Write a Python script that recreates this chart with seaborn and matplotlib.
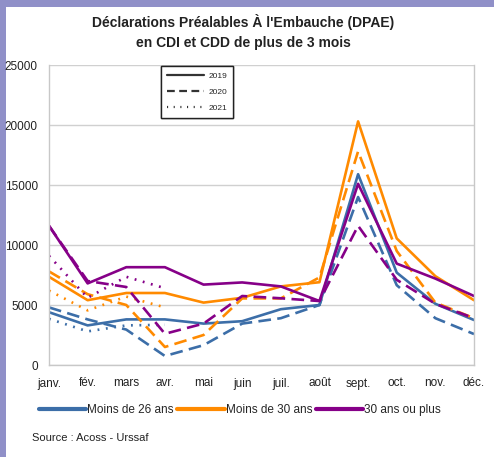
import matplotlib
matplotlib.use("Agg")
import matplotlib.pyplot as plt
from matplotlib.lines import Line2D
from matplotlib.patches import Rectangle
import pandas as pd
import seaborn as sns

mois = ["janv.", "fév.", "mars", "avr.", "mai", "juin", "juil.",
        "août", "sept.", "oct.", "nov.", "déc."]

# Moins de 26 ans
m26_2019 = [4400, 3300, 3800, 3800, 3450, 3650, 4650, 5000, 15900, 7700, 5100, 3750]
m26_2020 = [4800, 3800, 2950, 750, 1650, 3450, 3900, 5000, 14000, 6650, 3900, 2580]
m26_2021 = [3850, 2800, 3300, 3350]

# Moins de 30 ans
m30_2019 = [7350, 5400, 6000, 6000, 5200, 5600, 6550, 6900, 20300, 10550, 7400, 5400]
m30_2020 = [7800, 5900, 5000, 1500, 2500, 5550, 5550, 7300, 17800, 9500, 5200, 3900]
m30_2021 = [6200, 4550, 5700, 4800]

# 30 ans ou plus
p30_2019 = [11600, 6800, 8150, 8150, 6700, 6880, 6550, 5330, 15100, 8450, 7200, 5750]
p30_2020 = [11600, 7000, 6500, 2600, 3450, 5750, 5560, 5330, 11600, 7100, 5100, 3900]
p30_2021 = [9100, 5600, 7350, 6400]

groupes = ["Moins de 26 ans", "Moins de 30 ans", "30 ans ou plus"]
annees = ["2019", "2020", "2021"]
series = {
    ("Moins de 26 ans", "2019"): m26_2019,
    ("Moins de 26 ans", "2020"): m26_2020,
    ("Moins de 26 ans", "2021"): m26_2021,
    ("Moins de 30 ans", "2019"): m30_2019,
    ("Moins de 30 ans", "2020"): m30_2020,
    ("Moins de 30 ans", "2021"): m30_2021,
    ("30 ans ou plus", "2019"): p30_2019,
    ("30 ans ou plus", "2020"): p30_2020,
    ("30 ans ou plus", "2021"): p30_2021,
}

rows = []
for (g, a), vals in series.items():
    for i, v in enumerate(vals):
        rows.append({"mois": i, "dpae": v, "groupe": g, "annee": a})
df = pd.DataFrame(rows)

couleurs = {"Moins de 26 ans": "#3c6ea8", "Moins de 30 ans": "#ff8a00",
            "30 ans ou plus": "#860088"}
tirets = {"2019": "", "2020": (4.8, 2.4), "2021": (0.7, 2.5)}

sns.set_style("white")
plt.rcParams["font.family"] = ["Liberation Sans Narrow", "Liberation Sans", "DejaVu Sans"]

fig = plt.figure(figsize=(4.94, 4.57), dpi=100, facecolor="#9090c8")
fig.patches.append(Rectangle((6 / 494, 0), 1, 1 - 7 / 457, transform=fig.transFigure,
                             facecolor="white", edgecolor="none", zorder=-5))
ax = fig.add_axes([49 / 494, 1 - 365 / 457, 425 / 494, 300 / 457])
ax.set_facecolor("none")

sns.lineplot(data=df, x="mois", y="dpae", hue="groupe", style="annee",
             palette=couleurs, dashes=tirets, hue_order=groupes, style_order=annees,
             linewidth=1.9, sort=False, estimator=None, legend=False, ax=ax)

ax.set_xlim(0, 11)
ax.set_ylim(0, 25000)
ax.set_xticks(range(12))
ax.set_xticklabels(mois)
ax.set_yticks(range(0, 25001, 5000))
ax.set_xlabel("")
ax.set_ylabel("")
ax.grid(axis="y", color="#d0d0d0", linewidth=1)
ax.set_axisbelow(True)
for s in ["left", "bottom", "right"]:
    ax.spines[s].set_color("#c8c8c8")
    ax.spines[s].set_linewidth(1)
ax.spines["top"].set_visible(False)
ax.tick_params(axis="both", length=5, width=1, color="#c8c8c8",
               labelsize=8.5, labelcolor="#222222", direction="out", pad=3)
ax.tick_params(axis="x", pad=4)

fig.text(243 / 494, 1 - 32 / 457, "Déclarations Préalables À l'Embauche (DPAE)\nen CDI et CDD de plus de 3 mois",
         ha="center", va="center", fontsize=10, fontweight="bold", color="#222222",
         linespacing=1.5)

# légende des années
h_annees = [Line2D([], [], color="#333333", lw=1.6, linestyle="-"),
            Line2D([], [], color="#333333", lw=1.6, dashes=(3.5, 2)),
            Line2D([], [], color="#333333", lw=1.6, dashes=(0.5, 2.5))]
leg1 = ax.legend(h_annees, annees, loc="upper left", bbox_to_anchor=(112 / 425, 1 - 1 / 300),
                 borderaxespad=0, fontsize=6, frameon=True, fancybox=False,
                 edgecolor="#222222", handlelength=4.5, handletextpad=0.5,
                 borderpad=0.7, labelspacing=1.0, framealpha=1)
leg1.get_frame().set_linewidth(1)
ax.add_artist(leg1)

# légende des groupes
h_groupes = [Line2D([], [], color=couleurs[g], lw=3) for g in groupes]
fig.legend(h_groupes, groupes, loc="center", bbox_to_anchor=(240 / 494, 1 - 410 / 457),
           ncol=3, fontsize=8.5, frameon=False, handlelength=4.0, handletextpad=0.1,
           columnspacing=0.3)

fig.text(32 / 494, 1 - 438 / 457, "Source : Acoss - Urssaf", fontsize=8,
         color="#222222", ha="left", va="center")

fig.savefig("out.png", dpi=100, facecolor=fig.get_facecolor())
